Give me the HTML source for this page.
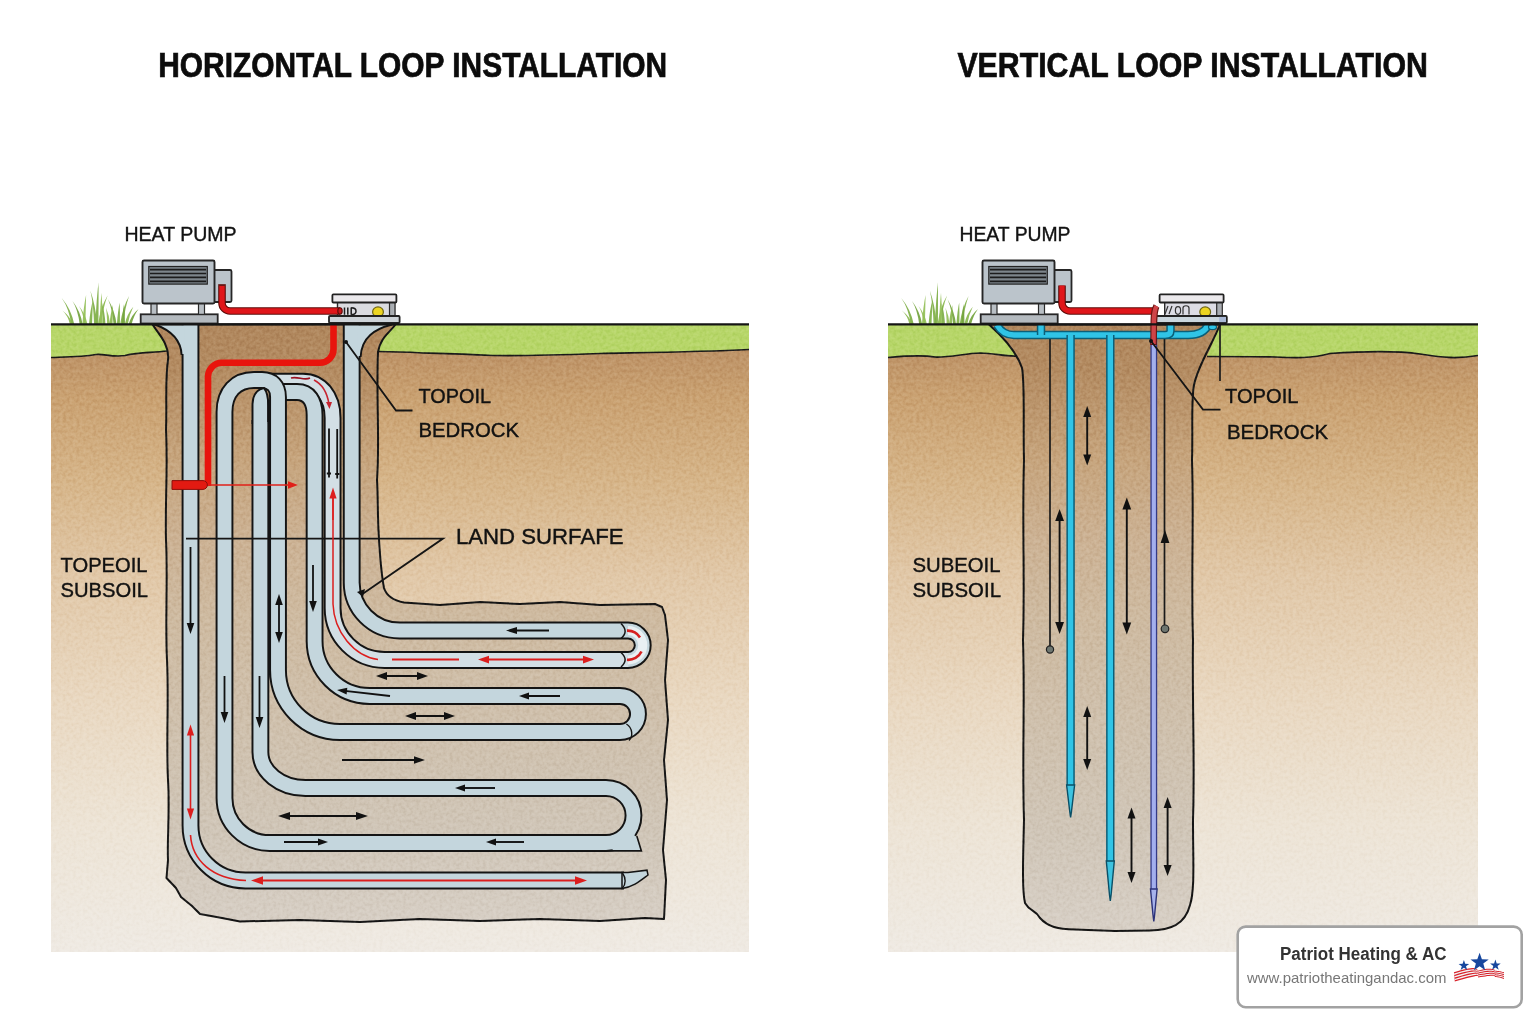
<!DOCTYPE html>
<html lang="en"><head><meta charset="utf-8"><title>Loop Installation</title>
<style>
html,body{margin:0;padding:0;background:#fff;}
body{width:1536px;height:1024px;overflow:hidden;font-family:"Liberation Sans",sans-serif;}
svg{display:block;font-family:"Liberation Sans",sans-serif;}
</style></head><body>
<svg width="1536" height="1024" viewBox="0 0 1536 1024">
<rect width="1536" height="1024" fill="#ffffff"/>
<defs>
<linearGradient id="soil" x1="0" y1="0" x2="0" y2="1">
 <stop offset="0" stop-color="#b68c62"/>
 <stop offset="0.06" stop-color="#c09669"/>
 <stop offset="0.12" stop-color="#caa272"/>
 <stop offset="0.25" stop-color="#d6b589"/>
 <stop offset="0.40" stop-color="#e1c8a8"/>
 <stop offset="0.60" stop-color="#e9d8c1"/>
 <stop offset="0.80" stop-color="#ede4d6"/>
 <stop offset="1" stop-color="#efeae3"/>
</linearGradient>
<linearGradient id="exc" x1="0" y1="324" x2="0" y2="925" gradientUnits="userSpaceOnUse">
 <stop offset="0" stop-color="#b0875d"/>
 <stop offset="0.08" stop-color="#b48c62"/>
 <stop offset="0.22" stop-color="#c6a47c"/>
 <stop offset="0.36" stop-color="#ccb294"/>
 <stop offset="0.48" stop-color="#cebaa0"/>
 <stop offset="0.65" stop-color="#cfc0ac"/>
 <stop offset="0.85" stop-color="#d0c6b8"/>
 <stop offset="1" stop-color="#d7cfc5"/>
</linearGradient>
<filter id="grain" x="0" y="0" width="100%" height="100%" color-interpolation-filters="sRGB">
 <feTurbulence type="fractalNoise" baseFrequency="0.3" numOctaves="2" seed="5"/>
 <feColorMatrix type="matrix" values="1.8 0 0 0 -0.4  1.8 0 0 0 -0.4  1.8 0 0 0 -0.4  0 0 0 0 1"/>
</filter>
<linearGradient id="fadeb" x1="0" y1="0" x2="0" y2="1">
 <stop offset="0" stop-color="#fff" stop-opacity="0"/>
 <stop offset="1" stop-color="#fff" stop-opacity="0.85"/>
</linearGradient>
</defs>
<text x="158.2" y="76.8" font-size="34.4" font-weight="700" textLength="509" lengthAdjust="spacingAndGlyphs" fill="#0c0c0c" stroke="#0c0c0c" stroke-width="0.7">HORIZONTAL LOOP INSTALLATION</text>
<text x="957.4" y="76.8" font-size="34.4" font-weight="700" textLength="470.5" lengthAdjust="spacingAndGlyphs" fill="#0c0c0c" stroke="#0c0c0c" stroke-width="0.7">VERTICAL LOOP INSTALLATION</text>
<rect x="51" y="324" width="698" height="628" fill="url(#soil)"/>
<path d="M51,324 H153 L160,335 L167.5,351 C150,353 140,352 125,355.5 C112,357.5 104,353.5 96,354.5 C82,357 65,357 51,357.5 Z" fill="#b7d669"/>
<path d="M167.5,351 C150,353 140,352 125,355.5 C112,357.5 104,353.5 96,354.5 C82,357 65,357 51,357.5" fill="none" stroke="#1a1a1a" stroke-width="1.7"/>
<path d="M396,324 H749 V349.5 C700,352 650,352.5 600,353.5 C560,355 520,356 493,355.5 C460,354 440,353.5 423,353 C405,352 392,351.5 378,351.5 C380,338 390,332 396,324 Z" fill="#b7d669"/>
<path d="M749,349.5 C700,352 650,352.5 600,353.5 C560,355 520,356 493,355.5 C460,354 440,353.5 423,353 C405,352 392,351.5 378,351.5" fill="none" stroke="#1a1a1a" stroke-width="1.7"/>
<path d="M152.5,324.5 C158,333 170,345 168,360 C165,380 167,400 166,430 C168,470 165,500 166,540 C168,580 165,620 167,660 C169,700 166,740 168,780 C170,810 167,840 168,860 L166.5,878 L176,888 L181,897 L192,906 L200,914 L222,918 L240,921.5 L300,920 L360,922 L420,919 L480,921 L540,919 L600,921 L645,918 L664,919 L666,880 L663,850 L667,800 L664,760 L668,720 L665,680 L668,640 L665,615 L662,607 L655,604 L600,605 L560,602 L520,604 L480,602 L440,605 L418,603.5 L404,602.5 C394,600.5 386.5,596 384,588 C381,572 379.5,550 378.5,530 C377.5,510 378,495 377,480 C380,440 376,400 378,352 C380,338 390,332 396,324 Z" fill="url(#exc)" stroke="#151515" stroke-width="2" stroke-linejoin="round"/>
<rect x="51" y="324" width="698" height="628" fill="#808080" filter="url(#grain)" style="mix-blend-mode:soft-light" opacity="0.2"/>
<path d="M351.7,324 V582 A48,48 0 0 0 399.7,630.5 H628 A14.75,14.75 0 0 1 628,660" fill="none" stroke="#141414" stroke-width="17.8" stroke-linecap="butt" stroke-linejoin="round"/>
<path d="M351.7,324 V582 A48,48 0 0 0 399.7,630.5 H628 A14.75,14.75 0 0 1 628,660" fill="none" stroke="#c4d6dd" stroke-width="13.9" stroke-linecap="butt" stroke-linejoin="round"/>
<path d="M357.6,325.2 H392 C375,329 361.5,337 360.6,356 L357.6,356 Z" fill="#c4d6dd"/>
<path d="M392,324.5 C375,329 361.5,337 360.6,357" fill="none" stroke="#141414" stroke-width="1.9"/>
<path d="M262,381.6 H303 C320,381.6 332.6,396 332.6,418 V608 A52,52 0 0 0 384.6,660 H628" fill="none" stroke="#141414" stroke-width="17.8" stroke-linecap="butt" stroke-linejoin="round"/>
<path d="M262,381.6 H303 C320,381.6 332.6,396 332.6,418 V608 A52,52 0 0 0 384.6,660 H628" fill="none" stroke="#d3dfe5" stroke-width="13.9" stroke-linecap="butt" stroke-linejoin="round"/>
<path d="M270,392 H297 C309,392 314.6,401 314.6,415 V641 A55,55 0 0 0 369.6,696 H620 A18,18 0 0 1 620,732" fill="none" stroke="#141414" stroke-width="17.8" stroke-linecap="butt" stroke-linejoin="round"/>
<path d="M270,392 H297 C309,392 314.6,401 314.6,415 V641 A55,55 0 0 0 369.6,696 H620 A18,18 0 0 1 620,732" fill="none" stroke="#c4d6dd" stroke-width="13.9" stroke-linecap="butt" stroke-linejoin="round"/>
<path d="M620,732 H340 A62,62 0 0 1 278,670 V397 C278,386 272,380 262,380 H254 C236,380 224.5,392 224.5,412 V798 A45,45 0 0 0 269.5,843 H606 A27.5,27.5 0 0 0 606,788 H305.4 A45,36 0 0 1 260.4,752 V420" fill="none" stroke="#141414" stroke-width="17.8" stroke-linecap="butt" stroke-linejoin="round"/>
<path d="M620,732 H340 A62,62 0 0 1 278,670 V397 C278,386 272,380 262,380 H254 C236,380 224.5,392 224.5,412 V798 A45,45 0 0 0 269.5,843 H606 A27.5,27.5 0 0 0 606,788 H305.4 A45,36 0 0 1 260.4,752 V420" fill="none" stroke="#c4d6dd" stroke-width="13.9" stroke-linecap="butt" stroke-linejoin="round"/>
<path d="M252.5,424 V404 C252.8,394 258,389 264,388 C267.4,392 268.3,398 268.3,406 V424" fill="#c4d6dd" stroke="#141414" stroke-width="1.95"/>
<path d="M190.5,324 V825.5 A55,55 0 0 0 245.5,880.5 H624" fill="none" stroke="#141414" stroke-width="17.8" stroke-linecap="butt" stroke-linejoin="round"/>
<path d="M190.5,324 V825.5 A55,55 0 0 0 245.5,880.5 H624" fill="none" stroke="#c4d6dd" stroke-width="13.9" stroke-linecap="butt" stroke-linejoin="round"/>
<path d="M155,325.2 H184.6 V354 L181.6,354 C181,339 170,330 155,325.2 Z" fill="#c4d6dd"/>
<path d="M155,324.5 C170,330 181,339 181.6,355" fill="none" stroke="#141414" stroke-width="1.9"/>
<path d="M622,872.6 H628 L647,870.2 L648,875 C640,881 633,887 622,888.4 Z" fill="#c4d6dd" stroke="#141414" stroke-width="1.5"/>
<path d="M622.5,873 C626,878 626,884 622.5,888" fill="none" stroke="#141414" stroke-width="1.4"/>
<path d="M612,850.2 H640.6 L636.4,836.8 L628,831 Z" fill="#c4d6dd"/>
<path d="M600,850.9 H641.4 L636.8,836" fill="none" stroke="#141414" stroke-width="1.6" stroke-linejoin="miter"/>
<path d="M626.4,724 C633,728 633,737 629,740.5" fill="none" stroke="#141414" stroke-width="1.4"/>
<path d="M628,630.5 A14.75,14.75 0 0 1 628,660" fill="none" stroke="#e9f0f3" stroke-width="9"/>
<path d="M621,623.5 C626.5,629 626.5,633.5 621,638.5" fill="none" stroke="#141414" stroke-width="1.5"/>
<path d="M621,652.5 C626.5,657.5 626.5,662 621,667" fill="none" stroke="#141414" stroke-width="1.5"/>
<path d="M627,630.6 A14.6,14.6 0 0 1 640,637.5" fill="none" stroke="#d62020" stroke-width="2.6"/>
<path d="M641.5,651.5 A14.6,14.6 0 0 1 627,659.8" fill="none" stroke="#d62020" stroke-width="2.6"/>
<path d="M186,538.6 H443 L361,595" fill="none" stroke="#151515" stroke-width="1.8"/>
<path d="M357,592 L365,589 L363,597 Z" fill="#111"/>
<path d="M333.5,322 V349 A13.5,13.5 0 0 1 320,362.8 H222 A14,14 0 0 0 208,377 V486" fill="none" stroke="#e8150d" stroke-width="6.6"/>
<path d="M172,480.6 H203 A4.4,4.4 0 0 1 203,489.4 H172 Z" fill="#e21a12" stroke="#8a0f0a" stroke-width="1"/>
<line x1="208.0" y1="485.0" x2="290.0" y2="485.0" stroke="#e02018" stroke-width="1.5"/>
<polygon points="298.0,485.0 288.0,488.8 288.0,481.2" fill="#e02018"/>
<line x1="190.5" y1="547.0" x2="190.5" y2="625.2" stroke="#111" stroke-width="1.8"/>
<polygon points="190.5,634.0 186.7,623.0 194.3,623.0" fill="#111"/>
<line x1="224.5" y1="676.0" x2="224.5" y2="714.2" stroke="#111" stroke-width="1.8"/>
<polygon points="224.5,723.0 220.7,712.0 228.3,712.0" fill="#111"/>
<line x1="259.5" y1="676.0" x2="259.5" y2="719.2" stroke="#111" stroke-width="1.8"/>
<polygon points="259.5,728.0 255.7,717.0 263.3,717.0" fill="#111"/>
<line x1="279.0" y1="602.8" x2="279.0" y2="634.2" stroke="#111" stroke-width="1.8"/>
<polygon points="279.0,643.0 275.2,632.0 282.8,632.0" fill="#111"/>
<polygon points="279.0,594.0 275.2,605.0 282.8,605.0" fill="#111"/>
<line x1="313.0" y1="565.0" x2="313.0" y2="603.2" stroke="#111" stroke-width="1.8"/>
<polygon points="313.0,612.0 309.2,601.0 316.8,601.0" fill="#111"/>
<line x1="190.5" y1="733.3" x2="190.5" y2="810.7" stroke="#dc1e1e" stroke-width="1.6"/>
<polygon points="190.5,819.5 186.9,808.5 194.1,808.5" fill="#dc1e1e"/>
<polygon points="190.5,724.5 186.9,735.5 194.1,735.5" fill="#dc1e1e"/>
<path d="M190.5,835 C192,860 212,879 246,880.5" fill="none" stroke="#dc1e1e" stroke-width="1.6"/>
<line x1="577.4" y1="880.5" x2="260.6" y2="880.5" stroke="#dc1e1e" stroke-width="1.9"/>
<polygon points="251.0,880.5 263.0,876.3 263.0,884.7" fill="#dc1e1e"/>
<polygon points="587.0,880.5 575.0,876.3 575.0,884.7" fill="#dc1e1e"/>
<path d="M333,496 V604 C334,632 354,656 378,659.5" fill="none" stroke="#dc1e1e" stroke-width="1.5"/>
<line x1="333.0" y1="520.0" x2="333.0" y2="496.3" stroke="#dc1e1e" stroke-width="1.5"/>
<polygon points="333.0,487.5 336.6,498.5 329.4,498.5" fill="#dc1e1e"/>
<path d="M392,659.4 H459" stroke="#dc1e1e" stroke-width="2"/>
<line x1="486.8" y1="659.6" x2="585.2" y2="659.6" stroke="#dc1e1e" stroke-width="2"/>
<polygon points="594.0,659.6 583.0,663.4 583.0,655.8" fill="#dc1e1e"/>
<polygon points="478.0,659.6 489.0,663.4 489.0,655.8" fill="#dc1e1e"/>
<path d="M291,378 C298,376 304,381 310,378" fill="none" stroke="#9a1020" stroke-width="1.6"/>
<path d="M314,380 C322,384 327,392 329,404" fill="none" stroke="#c62430" stroke-width="1.6"/><polygon points="329.5,409 326,402 332,402" fill="#c62430"/>
<path d="M329,428.5 V477.5 M337.2,429 V478.5 M326.8,473.5 H331 M335.2,474 H339.4" stroke="#111" stroke-width="1.8" fill="none"/>
<path d="M268.5,400 V422" stroke="#111" stroke-width="2.4"/>
<line x1="549.0" y1="630.5" x2="514.8" y2="630.5" stroke="#111" stroke-width="1.9"/>
<polygon points="506.0,630.5 517.0,626.9 517.0,634.1" fill="#111"/>
<line x1="384.8" y1="676.0" x2="419.2" y2="676.0" stroke="#111" stroke-width="1.9"/>
<polygon points="428.0,676.0 417.0,679.9 417.0,672.1" fill="#111"/>
<polygon points="376.0,676.0 387.0,679.9 387.0,672.1" fill="#111"/>
<line x1="390.0" y1="696.0" x2="344.9" y2="690.9" stroke="#111" stroke-width="1.9"/>
<polygon points="337.0,690.0 347.3,687.7 346.6,694.5" fill="#111"/>
<line x1="560.0" y1="696.0" x2="527.0" y2="696.0" stroke="#111" stroke-width="1.9"/>
<polygon points="519.0,696.0 529.0,692.4 529.0,699.6" fill="#111"/>
<line x1="413.8" y1="716.0" x2="446.2" y2="716.0" stroke="#111" stroke-width="1.9"/>
<polygon points="455.0,716.0 444.0,719.9 444.0,712.1" fill="#111"/>
<polygon points="405.0,716.0 416.0,719.9 416.0,712.1" fill="#111"/>
<line x1="342.0" y1="760.0" x2="416.2" y2="760.0" stroke="#111" stroke-width="1.9"/>
<polygon points="425.0,760.0 414.0,763.8 414.0,756.2" fill="#111"/>
<line x1="495.0" y1="788.0" x2="463.0" y2="788.0" stroke="#111" stroke-width="1.9"/>
<polygon points="455.0,788.0 465.0,784.4 465.0,791.6" fill="#111"/>
<line x1="287.6" y1="816.0" x2="358.4" y2="816.0" stroke="#111" stroke-width="1.9"/>
<polygon points="368.0,816.0 356.0,820.0 356.0,812.0" fill="#111"/>
<polygon points="278.0,816.0 290.0,820.0 290.0,812.0" fill="#111"/>
<line x1="284.0" y1="842.0" x2="320.0" y2="842.0" stroke="#111" stroke-width="1.9"/>
<polygon points="328.0,842.0 318.0,845.6 318.0,838.4" fill="#111"/>
<line x1="524.0" y1="842.0" x2="494.0" y2="842.0" stroke="#111" stroke-width="1.9"/>
<polygon points="486.0,842.0 496.0,838.4 496.0,845.6" fill="#111"/>
<rect x="140.7" y="314.3" width="77" height="9.2" fill="#b4babf" stroke="#262626" stroke-width="1.8"/>
<rect x="151.0" y="303.4" width="6" height="11" fill="#b9bfc4" stroke="#2a2a2a" stroke-width="1.2"/>
<rect x="198.5" y="303.4" width="6" height="11" fill="#b9bfc4" stroke="#2a2a2a" stroke-width="1.2"/>
<rect x="213.5" y="270" width="18" height="32" rx="1.5" fill="#bbc4cb" stroke="#262626" stroke-width="1.8"/>
<rect x="142.5" y="260.5" width="72" height="43" rx="1.5" fill="#bbc4cb" stroke="#262626" stroke-width="1.9"/>
<rect x="148.8" y="266.5" width="58.5" height="17.6" fill="#7d858b" stroke="#222" stroke-width="1.2"/>
<line x1="150.0" y1="269.6" x2="206.1" y2="269.6" stroke="#1c1c1c" stroke-width="1.7"/>
<line x1="150.0" y1="273.5" x2="206.1" y2="273.5" stroke="#1c1c1c" stroke-width="1.7"/>
<line x1="150.0" y1="277.40000000000003" x2="206.1" y2="277.40000000000003" stroke="#1c1c1c" stroke-width="1.7"/>
<line x1="150.0" y1="281.3" x2="206.1" y2="281.3" stroke="#1c1c1c" stroke-width="1.7"/>
<rect x="337.5" y="302" width="57.5" height="14.5" fill="#dadbe0" stroke="#2b2b2b" stroke-width="1.4"/>
<rect x="389.5" y="302.6" width="4.4" height="13.4" fill="#a9adb2"/>
<path d="M389.5,302.6 V316" stroke="#2b2b2b" stroke-width="1.2"/>
<ellipse cx="378" cy="311.9" rx="5.4" ry="5" fill="#ecd522" stroke="#6f6614" stroke-width="1.2"/>
<rect x="332.4" y="294.4" width="64" height="8.1" rx="1" fill="#ebe9ec" stroke="#222" stroke-width="1.8"/>
<rect x="329" y="316" width="70.6" height="7" rx="1" fill="#cdd3d8" stroke="#222" stroke-width="1.8"/>
<path d="M222,285.5 V303 A8,8 0 0 0 230,311 H340" fill="none" stroke="#5d0b08" stroke-width="7.6"/>
<path d="M222,285.5 V303 A8,8 0 0 0 230,311 H340" fill="none" stroke="#e0161a" stroke-width="5.4"/>
<path d="M218.2,285 H225.8" stroke="#5d0b08" stroke-width="1.6"/>
<ellipse cx="340" cy="311" rx="2.2" ry="3.2" fill="#c8151a" stroke="#5d0b08" stroke-width="1.1"/>
<g fill="none" stroke="#1c1c1c" stroke-width="1.5"><path d="M344.5,307.5 V314.8 M347.8,307.5 V314.8"/><path d="M351.2,307.5 V314.8 M351.2,307.8 C357.6,307.8 357.6,314.6 351.2,314.6"/></g>
<circle cx="346" cy="342" r="2" fill="#111"/>
<path d="M346,342 L396,410.5 H412.5" fill="none" stroke="#151515" stroke-width="1.8"/>
<path d="M71.3,324.5 Q69.1,308.4 61.7,298.0 Q71.4,309.4 74.3,324.5 Z" fill="#7fae47" opacity="0.93"/>
<path d="M70.0,324.5 Q68.3,315.8 62.4,310.4 Q70.6,316.8 73.0,324.5 Z" fill="#8bb850" opacity="0.93"/>
<path d="M79.7,324.5 Q78.1,310.2 72.5,301.0 Q80.4,311.2 82.7,324.5 Z" fill="#74a43e" opacity="0.93"/>
<path d="M82.4,324.5 Q83.5,306.6 86.1,295.0 Q85.8,307.6 85.4,324.5 Z" fill="#93bf58" opacity="0.93"/>
<path d="M94.1,324.5 Q93.4,304.1 90.4,290.8 Q95.6,305.1 97.1,324.5 Z" fill="#80b048" opacity="0.93"/>
<path d="M95.4,324.5 Q96.4,299.0 98.5,282.4 Q98.7,300.0 98.4,324.5 Z" fill="#7fae47" opacity="0.93"/>
<path d="M98.0,324.5 Q100.6,306.8 107.6,295.4 Q102.9,307.8 101.0,324.5 Z" fill="#8bb850" opacity="0.93"/>
<path d="M113.6,324.5 Q112.4,309.2 108.0,299.3 Q114.7,310.2 116.6,324.5 Z" fill="#74a43e" opacity="0.93"/>
<path d="M107.1,324.5 Q107.0,314.3 106.0,307.8 Q109.3,315.3 110.1,324.5 Z" fill="#93bf58" opacity="0.93"/>
<path d="M116.9,324.5 Q117.8,311.2 119.7,302.6 Q120.1,312.2 119.9,324.5 Z" fill="#80b048" opacity="0.93"/>
<path d="M120.1,324.5 Q122.6,307.2 129.1,296.0 Q124.8,308.2 123.1,324.5 Z" fill="#7fae47" opacity="0.93"/>
<path d="M124.7,324.5 Q127.1,313.7 133.3,306.8 Q129.3,314.7 127.7,324.5 Z" fill="#8bb850" opacity="0.93"/>
<path d="M128.5,324.5 Q131.2,315.0 138.5,309.0 Q133.5,316.0 131.5,324.5 Z" fill="#74a43e" opacity="0.93"/>
<path d="M84.5,324.5 Q83.3,313.2 79.0,306.0 Q85.6,314.2 87.5,324.5 Z" fill="#93bf58" opacity="0.93"/>
<path d="M89.0,324.5 Q90.2,309.6 93.0,300.0 Q92.5,310.6 92.0,324.5 Z" fill="#80b048" opacity="0.93"/>
<path d="M102.5,324.5 Q102.6,311.4 102.0,303.0 Q104.8,312.4 105.5,324.5 Z" fill="#7fae47" opacity="0.93"/>
<path d="M109.5,324.5 Q110.6,312.6 113.0,305.0 Q112.8,313.6 112.5,324.5 Z" fill="#8bb850" opacity="0.93"/>
<path d="M122.0,324.5 Q122.7,312.0 124.0,304.0 Q125.0,313.0 125.0,324.5 Z" fill="#74a43e" opacity="0.93"/>
<path d="M99.5,324.5 Q100.2,305.4 101.5,293.0 Q102.5,306.4 102.5,324.5 Z" fill="#93bf58" opacity="0.93"/>
<text x="124.5" y="241.4" fill="#121212" stroke="#121212" stroke-width="0.4" font-size="20" textLength="112" lengthAdjust="spacingAndGlyphs">HEAT PUMP</text>
<text x="418.5" y="402.6" fill="#121212" stroke="#121212" stroke-width="0.4" font-size="20" textLength="72.5" lengthAdjust="spacingAndGlyphs">TOPOIL</text>
<text x="418.5" y="436.8" fill="#121212" stroke="#121212" stroke-width="0.4" font-size="20" textLength="100.5" lengthAdjust="spacingAndGlyphs">BEDROCK</text>
<text x="456" y="544.4" font-size="21.5" fill="#121212" stroke="#121212" stroke-width="0.4" textLength="167.5" lengthAdjust="spacingAndGlyphs">LAND SURFAFE</text>
<text x="60.5" y="572.4" fill="#121212" stroke="#121212" stroke-width="0.4" font-size="20" textLength="87" lengthAdjust="spacingAndGlyphs">TOPEOIL</text>
<text x="60.5" y="597" fill="#121212" stroke="#121212" stroke-width="0.4" font-size="20" textLength="87.5" lengthAdjust="spacingAndGlyphs">SUBSOIL</text>
<path d="M51,324.4 H749" stroke="#151515" stroke-width="2.3"/>
<rect x="888" y="324" width="590" height="628" fill="url(#soil)"/>
<path d="M888,324 H989 C1000,334 1012,345 1018,356 C1005,357 995,353 980,353 C965,353.5 950,357.5 935,357 C920,354.5 905,356 888,357.5 Z" fill="#b7d669"/>
<path d="M1018,356 C1005,357 995,353 980,353 C965,353.5 950,357.5 935,357 C920,354.5 905,356 888,357.5" fill="none" stroke="#1a1a1a" stroke-width="1.7"/>
<path d="M1220,324 H1478 V355.5 C1455,359.5 1440,357 1420,354 C1395,350.5 1360,351.5 1330,353.5 C1312,358.5 1295,358 1275,357 C1255,356.5 1228,356.5 1207,356.5 C1212,345 1216,336 1220,324 Z" fill="#b7d669"/>
<path d="M1478,355.5 C1455,359.5 1440,357 1420,354 C1395,350.5 1360,351.5 1330,353.5 C1312,358.5 1295,358 1275,357 C1255,356.5 1228,356.5 1207,356.5" fill="none" stroke="#1a1a1a" stroke-width="1.7"/>
<path d="M989,324.5 C1002,336 1016,350 1022,368 C1025,385 1023,420 1024,460 C1022,520 1025,580 1023,640 C1025,700 1022,760 1024,820 C1023,860 1022,890 1025,903 C1030,912 1036,910 1040,918 C1048,927 1058,929 1075,929.5 L1115,931 L1150,930.5 C1170,930 1185,925 1190,905 C1195,890 1193,860 1193,820 C1195,760 1192,700 1193,640 C1191,580 1194,520 1192,460 C1193,430 1191,400 1194,385 C1198,365 1212,345 1220,324.5 Z" fill="url(#exc)" stroke="#151515" stroke-width="2" stroke-linejoin="round"/>
<rect x="888" y="324" width="590" height="628" fill="#808080" filter="url(#grain)" style="mix-blend-mode:soft-light" opacity="0.2"/>
<path d="M1050,338 V646" stroke="#1a1a1a" stroke-width="1.7"/>
<circle cx="1050" cy="649.5" r="3.6" fill="#6e7670" stroke="#222" stroke-width="1.2"/>
<path d="M1164.5,338 V625" stroke="#1a1a1a" stroke-width="1.7"/>
<circle cx="1165" cy="628.8" r="3.8" fill="#6e7670" stroke="#222" stroke-width="1.2"/>
<polygon points="1165,530 1160.6,543 1169.4,543" fill="#111"/>
<path d="M1220,324 V381" stroke="#1a1a1a" stroke-width="1.7"/>
<path d="M997,325 C1001,332 1006,335 1014,335 H1188 C1198,335 1205,332 1208,325" fill="none" stroke="#0b5f78" stroke-width="8.4" stroke-linejoin="round"/>
<path d="M997,325 C1001,332 1006,335 1014,335 H1188 C1198,335 1205,332 1208,325" fill="none" stroke="#30c4e6" stroke-width="5.4" stroke-linejoin="round"/>
<path d="M1041,325 V335" fill="none" stroke="#0b5f78" stroke-width="8.4" stroke-linejoin="round"/>
<path d="M1041,325 V335" fill="none" stroke="#30c4e6" stroke-width="5.4" stroke-linejoin="round"/>
<path d="M1170.5,325 V331 C1170.5,334 1168.5,335 1165,335" fill="none" stroke="#0b5f78" stroke-width="8.4" stroke-linejoin="round"/>
<path d="M1170.5,325 V331 C1170.5,334 1168.5,335 1165,335" fill="none" stroke="#30c4e6" stroke-width="5.4" stroke-linejoin="round"/>
<ellipse cx="1212.5" cy="327" rx="4" ry="2.6" fill="#30c4e6" stroke="#0b5f78" stroke-width="1.2"/>
<path d="M1070.6,335 V786" fill="none" stroke="#0b5f78" stroke-width="8.4" stroke-linejoin="round"/>
<path d="M1070.6,335 V786" fill="none" stroke="#30c4e6" stroke-width="5.4" stroke-linejoin="round"/>
<path d="M1110.3,335 V862" fill="none" stroke="#0b5f78" stroke-width="8.4" stroke-linejoin="round"/>
<path d="M1110.3,335 V862" fill="none" stroke="#30c4e6" stroke-width="5.4" stroke-linejoin="round"/>
<path d="M1066.6,785 H1074.6 L1071.4,812 L1070.6,817.5 L1069.8,812 Z" fill="#3dc3e0" stroke="#0b4f66" stroke-width="1.4"/>
<path d="M1106.3,861 H1114.3 L1111.1,895 L1110.3,901 L1109.5,895 Z" fill="#3dc3e0" stroke="#0b4f66" stroke-width="1.4"/>
<path d="M1153.8,338 V890" fill="none" stroke="#343a86" stroke-width="6.8" stroke-linejoin="round"/>
<path d="M1153.8,338 V890" fill="none" stroke="#a3afee" stroke-width="4.2" stroke-linejoin="round"/>
<path d="M1150.5,889 H1157.1 L1154.6,915 L1153.8,921.5 L1153,915 Z" fill="#a6b2ec" stroke="#2c3278" stroke-width="1.4"/>
<line x1="1087.2" y1="414.8" x2="1087.2" y2="456.7" stroke="#111" stroke-width="1.9"/>
<polygon points="1087.2,465.5 1083.2,454.5 1091.2,454.5" fill="#111"/>
<polygon points="1087.2,406.0 1083.2,417.0 1091.2,417.0" fill="#111"/>
<line x1="1059.6" y1="518.6" x2="1059.6" y2="624.4" stroke="#111" stroke-width="1.9"/>
<polygon points="1059.6,634.0 1055.2,622.0 1064.0,622.0" fill="#111"/>
<polygon points="1059.6,509.0 1055.2,521.0 1064.0,521.0" fill="#111"/>
<line x1="1126.8" y1="507.1" x2="1126.8" y2="624.9" stroke="#111" stroke-width="1.9"/>
<polygon points="1126.8,634.5 1122.4,622.5 1131.2,622.5" fill="#111"/>
<polygon points="1126.8,497.5 1122.4,509.5 1131.2,509.5" fill="#111"/>
<line x1="1087.2" y1="714.8" x2="1087.2" y2="761.2" stroke="#111" stroke-width="1.9"/>
<polygon points="1087.2,770.0 1083.2,759.0 1091.2,759.0" fill="#111"/>
<polygon points="1087.2,706.0 1083.2,717.0 1091.2,717.0" fill="#111"/>
<line x1="1131.5" y1="816.3" x2="1131.5" y2="874.2" stroke="#111" stroke-width="1.9"/>
<polygon points="1131.5,883.0 1127.5,872.0 1135.5,872.0" fill="#111"/>
<polygon points="1131.5,807.5 1127.5,818.5 1135.5,818.5" fill="#111"/>
<line x1="1167.6" y1="805.8" x2="1167.6" y2="867.2" stroke="#111" stroke-width="1.9"/>
<polygon points="1167.6,876.0 1163.6,865.0 1171.6,865.0" fill="#111"/>
<polygon points="1167.6,797.0 1163.6,808.0 1171.6,808.0" fill="#111"/>
<rect x="980.7" y="314.3" width="77" height="9.2" fill="#b4babf" stroke="#262626" stroke-width="1.8"/>
<rect x="991.0" y="303.4" width="6" height="11" fill="#b9bfc4" stroke="#2a2a2a" stroke-width="1.2"/>
<rect x="1038.5" y="303.4" width="6" height="11" fill="#b9bfc4" stroke="#2a2a2a" stroke-width="1.2"/>
<rect x="1053.5" y="270" width="18" height="32" rx="1.5" fill="#bbc4cb" stroke="#262626" stroke-width="1.8"/>
<rect x="982.5" y="260.5" width="72" height="43" rx="1.5" fill="#bbc4cb" stroke="#262626" stroke-width="1.9"/>
<rect x="988.8" y="266.5" width="58.5" height="17.6" fill="#7d858b" stroke="#222" stroke-width="1.2"/>
<line x1="990.0" y1="269.6" x2="1046.1" y2="269.6" stroke="#1c1c1c" stroke-width="1.7"/>
<line x1="990.0" y1="273.5" x2="1046.1" y2="273.5" stroke="#1c1c1c" stroke-width="1.7"/>
<line x1="990.0" y1="277.40000000000003" x2="1046.1" y2="277.40000000000003" stroke="#1c1c1c" stroke-width="1.7"/>
<line x1="990.0" y1="281.3" x2="1046.1" y2="281.3" stroke="#1c1c1c" stroke-width="1.7"/>
<path d="M1062,285.5 V303 A8,8 0 0 0 1070,311 H1154" fill="none" stroke="#5d0b08" stroke-width="7.6"/>
<path d="M1062,285.5 V303 A8,8 0 0 0 1070,311 H1154" fill="none" stroke="#e0161a" stroke-width="5.4"/>
<rect x="1164.7" y="302" width="57.5" height="14.5" fill="#dcdce4" stroke="#2b2b2b" stroke-width="1.4"/>
<rect x="1216.7" y="302.6" width="4.4" height="13.4" fill="#a9adb2"/>
<path d="M1216.7,302.6 V316" stroke="#2b2b2b" stroke-width="1.2"/>
<ellipse cx="1205.2" cy="311.9" rx="5.4" ry="5" fill="#ecd522" stroke="#6f6614" stroke-width="1.2"/>
<rect x="1159.6000000000001" y="294.4" width="64" height="8.1" rx="1" fill="#ebe9ec" stroke="#222" stroke-width="1.8"/>
<rect x="1156.2" y="316" width="70.6" height="7" rx="1" fill="#cbd6dd" stroke="#222" stroke-width="1.8"/>
<rect x="1219.2" y="316.9" width="6.8" height="5.2" fill="#aab9d6"/>
<g fill="none" stroke="#333" stroke-width="1.2"><path d="M1168,306 L1165,314 M1172,306 L1169,314"/><ellipse cx="1178" cy="310.5" rx="2.6" ry="3.8"/><path d="M1183,314.5 V308 C1183,305 1189,305 1189,308 V314.5"/></g>
<path d="M1156.5,306 C1153,312 1154,322 1153.5,345" fill="none" stroke="#6a1512" stroke-width="6.6"/>
<path d="M1156.5,306 C1153,312 1154,322 1153.5,344" fill="none" stroke="#cf4448" stroke-width="4.4"/>
<circle cx="1151" cy="341" r="2" fill="#111"/>
<path d="M1151,341 L1203,409.6 H1220.5" fill="none" stroke="#151515" stroke-width="1.8"/>
<path d="M910.8,324.5 Q908.6,308.4 901.2,298.0 Q910.9,309.4 913.8,324.5 Z" fill="#7fae47" opacity="0.93"/>
<path d="M909.5,324.5 Q907.8,315.8 901.9,310.4 Q910.1,316.8 912.5,324.5 Z" fill="#8bb850" opacity="0.93"/>
<path d="M919.2,324.5 Q917.6,310.2 912.0,301.0 Q919.9,311.2 922.2,324.5 Z" fill="#74a43e" opacity="0.93"/>
<path d="M921.9,324.5 Q923.1,306.6 925.6,295.0 Q925.3,307.6 924.9,324.5 Z" fill="#93bf58" opacity="0.93"/>
<path d="M933.6,324.5 Q932.9,304.1 929.9,290.8 Q935.1,305.1 936.6,324.5 Z" fill="#80b048" opacity="0.93"/>
<path d="M934.9,324.5 Q935.9,299.0 938.0,282.4 Q938.1,300.0 937.9,324.5 Z" fill="#7fae47" opacity="0.93"/>
<path d="M937.5,324.5 Q940.1,306.8 947.1,295.4 Q942.4,307.8 940.5,324.5 Z" fill="#8bb850" opacity="0.93"/>
<path d="M953.1,324.5 Q951.9,309.2 947.5,299.3 Q954.2,310.2 956.1,324.5 Z" fill="#74a43e" opacity="0.93"/>
<path d="M946.6,324.5 Q946.6,314.3 945.5,307.8 Q948.8,315.3 949.6,324.5 Z" fill="#93bf58" opacity="0.93"/>
<path d="M956.4,324.5 Q957.3,311.2 959.2,302.6 Q959.6,312.2 959.4,324.5 Z" fill="#80b048" opacity="0.93"/>
<path d="M959.6,324.5 Q962.1,307.2 968.6,296.0 Q964.3,308.2 962.6,324.5 Z" fill="#7fae47" opacity="0.93"/>
<path d="M964.2,324.5 Q966.6,313.7 972.8,306.8 Q968.8,314.7 967.2,324.5 Z" fill="#8bb850" opacity="0.93"/>
<path d="M968.0,324.5 Q970.7,315.0 978.0,309.0 Q973.0,316.0 971.0,324.5 Z" fill="#74a43e" opacity="0.93"/>
<path d="M924.0,324.5 Q922.9,313.2 918.5,306.0 Q925.1,314.2 927.0,324.5 Z" fill="#93bf58" opacity="0.93"/>
<path d="M928.5,324.5 Q929.7,309.6 932.5,300.0 Q932.0,310.6 931.5,324.5 Z" fill="#80b048" opacity="0.93"/>
<path d="M942.0,324.5 Q942.1,311.4 941.5,303.0 Q944.4,312.4 945.0,324.5 Z" fill="#7fae47" opacity="0.93"/>
<path d="M949.0,324.5 Q950.1,312.6 952.5,305.0 Q952.4,313.6 952.0,324.5 Z" fill="#8bb850" opacity="0.93"/>
<path d="M961.5,324.5 Q962.2,312.0 963.5,304.0 Q964.5,313.0 964.5,324.5 Z" fill="#74a43e" opacity="0.93"/>
<path d="M939.0,324.5 Q939.7,305.4 941.0,293.0 Q942.0,306.4 942.0,324.5 Z" fill="#93bf58" opacity="0.93"/>
<text x="959.5" y="241.4" fill="#121212" stroke="#121212" stroke-width="0.4" font-size="20" textLength="111" lengthAdjust="spacingAndGlyphs">HEAT PUMP</text>
<text x="1225" y="402.8" fill="#121212" stroke="#121212" stroke-width="0.4" font-size="20" textLength="73.5" lengthAdjust="spacingAndGlyphs">TOPOIL</text>
<text x="1227" y="438.8" fill="#121212" stroke="#121212" stroke-width="0.4" font-size="20" textLength="101" lengthAdjust="spacingAndGlyphs">BEDROCK</text>
<text x="912.5" y="572.4" fill="#121212" stroke="#121212" stroke-width="0.4" font-size="20" textLength="88" lengthAdjust="spacingAndGlyphs">SUBEOIL</text>
<text x="912.5" y="597" fill="#121212" stroke="#121212" stroke-width="0.4" font-size="20" textLength="88.5" lengthAdjust="spacingAndGlyphs">SUBSOIL</text>
<path d="M888,324.4 H1478" stroke="#151515" stroke-width="2.3"/>
<rect x="1237.7" y="926.6" width="284" height="80.6" rx="8" fill="#ffffff" stroke="#a2a2a2" stroke-width="2.6"/>
<text x="1280" y="960.3" font-size="18" font-weight="700" fill="#333" textLength="166.5" lengthAdjust="spacingAndGlyphs">Patriot Heating &amp; AC</text>
<text x="1247" y="982.6" font-size="15" fill="#777" textLength="199.5" lengthAdjust="spacingAndGlyphs">www.patriotheatingandac.com</text>
<polygon points="1494.7,970.7 1495.5,970.7 1496.3,970.8 1497.1,970.9 1497.9,971.0 1498.7,971.1 1499.5,971.2 1500.3,971.3 1501.0,971.5 1501.8,971.7 1502.5,971.9 1503.3,972.1 1504.0,972.3 1504.0,979.0 1503.3,978.7 1502.5,978.4 1501.8,978.2 1501.0,978.0 1500.3,977.8 1499.5,977.6 1498.7,977.4 1498.0,977.3 1497.2,977.2 1496.4,977.1 1495.7,977.0 1494.9,977.0" fill="#d8222a"/>
<polygon points="1494.7,971.6 1495.5,971.6 1496.3,971.7 1497.1,971.8 1497.9,971.9 1498.7,972.0 1499.5,972.1 1500.3,972.3 1501.0,972.4 1501.8,972.6 1502.5,972.8 1503.3,973.0 1504.0,973.3 1504.0,974.2 1503.3,974.0 1502.5,973.7 1501.8,973.5 1501.0,973.4 1500.3,973.2 1499.5,973.0 1498.7,972.9 1497.9,972.8 1497.2,972.7 1496.4,972.6 1495.6,972.5 1494.8,972.5" fill="#f4f4f6"/>
<polygon points="1494.8,973.4 1495.6,973.4 1496.4,973.5 1497.2,973.6 1498.0,973.7 1498.7,973.8 1499.5,973.9 1500.3,974.1 1501.0,974.3 1501.8,974.5 1502.5,974.7 1503.3,974.9 1504.0,975.2 1504.0,976.1 1503.3,975.9 1502.5,975.6 1501.8,975.4 1501.0,975.2 1500.3,975.0 1499.5,974.9 1498.7,974.7 1498.0,974.6 1497.2,974.5 1496.4,974.4 1495.6,974.3 1494.8,974.3" fill="#f4f4f6"/>
<polygon points="1494.8,975.2 1495.6,975.2 1496.4,975.3 1497.2,975.4 1498.0,975.5 1498.7,975.6 1499.5,975.8 1500.3,975.9 1501.0,976.1 1501.8,976.3 1502.5,976.6 1503.3,976.8 1504.0,977.1 1504.0,978.0 1503.3,977.8 1502.5,977.5 1501.8,977.3 1501.0,977.1 1500.3,976.9 1499.5,976.7 1498.7,976.5 1498.0,976.4 1497.2,976.3 1496.4,976.2 1495.7,976.1 1494.9,976.1" fill="#f4f4f6"/>
<polygon points="1477.6,970.7 1479.7,970.2 1481.6,969.7 1483.5,969.3 1485.2,969.0 1486.8,968.8 1488.3,968.7 1489.7,968.7 1490.9,968.7 1492.0,968.9 1493.0,969.1 1493.9,969.4 1494.7,969.8 1494.9,976.5 1494.7,976.2 1494.3,976.0 1493.7,975.8 1492.8,975.8 1491.8,975.7 1490.5,975.8 1489.0,975.9 1487.3,976.1 1485.3,976.4 1483.2,976.7 1480.8,977.1 1478.2,977.6" fill="#d8222a"/>
<polygon points="1477.7,971.7 1479.8,971.1 1481.9,970.7 1483.8,970.3 1485.5,970.0 1487.1,969.8 1488.6,969.7 1490.0,969.7 1491.2,969.7 1492.3,969.9 1493.2,970.1 1494.0,970.4 1494.7,970.8 1494.8,971.7 1494.2,971.3 1493.4,971.1 1492.5,970.9 1491.5,970.7 1490.3,970.7 1488.9,970.7 1487.4,970.8 1485.8,971.1 1484.0,971.3 1482.1,971.7 1480.0,972.1 1477.8,972.7" fill="#f4f4f6"/>
<polygon points="1477.9,973.7 1480.2,973.1 1482.3,972.7 1484.3,972.3 1486.1,972.1 1487.8,971.9 1489.2,971.7 1490.6,971.7 1491.7,971.7 1492.7,971.9 1493.6,972.0 1494.3,972.3 1494.8,972.7 1494.8,973.6 1494.4,973.3 1493.8,973.0 1493.0,972.8 1492.0,972.7 1490.9,972.7 1489.6,972.8 1488.1,972.9 1486.4,973.1 1484.5,973.4 1482.5,973.7 1480.3,974.1 1477.9,974.6" fill="#f4f4f6"/>
<polygon points="1478.0,975.6 1480.5,975.1 1482.7,974.7 1484.8,974.4 1486.7,974.1 1488.4,973.9 1489.9,973.8 1491.2,973.7 1492.3,973.7 1493.2,973.8 1493.9,974.0 1494.5,974.3 1494.8,974.6 1494.9,975.5 1494.6,975.2 1494.1,975.0 1493.5,974.8 1492.6,974.8 1491.5,974.7 1490.2,974.8 1488.7,974.9 1487.0,975.1 1485.1,975.4 1483.0,975.7 1480.6,976.1 1478.1,976.6" fill="#f4f4f6"/>
<polygon points="1453.9,972.3 1457.3,971.2 1460.5,970.3 1463.4,969.5 1466.0,968.9 1468.4,968.5 1470.5,968.2 1472.3,968.1 1473.9,968.1 1475.2,968.4 1476.3,968.7 1477.1,969.3 1477.6,970.0 1478.0,977.0 1478.4,976.5 1478.4,976.2 1477.9,976.0 1477.0,976.0 1475.7,976.1 1474.0,976.4 1471.9,976.9 1469.3,977.5 1466.3,978.2 1462.9,979.2 1459.1,980.3 1454.8,981.5" fill="#d8222a"/>
<polygon points="1454.0,973.6 1457.6,972.5 1460.8,971.5 1463.8,970.8 1466.5,970.1 1468.9,969.7 1471.0,969.4 1472.8,969.2 1474.4,969.3 1475.6,969.5 1476.6,969.8 1477.3,970.3 1477.7,971.0 1477.7,972.0 1477.5,971.4 1476.9,970.9 1476.0,970.5 1474.8,970.4 1473.3,970.4 1471.5,970.5 1469.4,970.9 1467.0,971.4 1464.2,972.0 1461.2,972.8 1457.8,973.8 1454.2,974.9" fill="#f4f4f6"/>
<polygon points="1454.3,976.2 1458.1,975.1 1461.5,974.1 1464.6,973.3 1467.4,972.6 1469.9,972.1 1472.0,971.7 1473.8,971.5 1475.3,971.5 1476.4,971.6 1477.2,971.9 1477.6,972.4 1477.8,973.0 1477.8,974.0 1477.8,973.4 1477.5,973.0 1476.8,972.7 1475.7,972.6 1474.3,972.7 1472.5,972.9 1470.4,973.3 1467.9,973.8 1465.1,974.5 1461.9,975.4 1458.3,976.4 1454.4,977.6" fill="#f4f4f6"/>
<polygon points="1454.5,978.9 1458.6,977.7 1462.2,976.6 1465.5,975.7 1468.4,975.0 1470.9,974.5 1473.0,974.1 1474.8,973.8 1476.1,973.7 1477.1,973.8 1477.8,974.0 1478.0,974.4 1477.9,975.0 1477.9,976.0 1478.2,975.5 1478.1,975.1 1477.5,974.9 1476.6,974.8 1475.2,975.0 1473.5,975.2 1471.4,975.7 1468.8,976.2 1465.9,977.0 1462.5,977.9 1458.8,979.0 1454.7,980.2" fill="#f4f4f6"/>
<polygon points="1463.9,960.0 1465.2,963.8 1469.2,963.9 1466.0,966.3 1467.2,970.1 1463.9,967.8 1460.6,970.1 1461.8,966.3 1458.6,963.9 1462.6,963.8" fill="#17479e"/>
<polygon points="1479.6,952.8 1481.9,959.3 1488.7,959.4 1483.3,963.6 1485.2,970.2 1479.6,966.2 1474.0,970.2 1475.9,963.6 1470.5,959.4 1477.3,959.3" fill="#17479e"/>
<polygon points="1495.4,959.6 1496.7,963.4 1500.7,963.5 1497.5,965.9 1498.7,969.7 1495.4,967.4 1492.1,969.7 1493.3,965.9 1490.1,963.5 1494.1,963.4" fill="#17479e"/>
</svg>
</body></html>
